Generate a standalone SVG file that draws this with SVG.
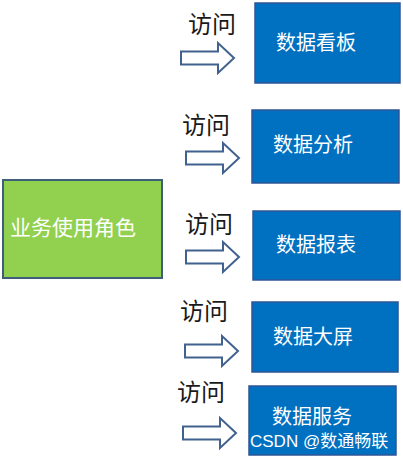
<svg xmlns="http://www.w3.org/2000/svg" width="403" height="458" viewBox="0 0 403 458">
<style>
.blue{fill:#0070C0;stroke:#2F5597;stroke-width:1.5}
.green{fill:#92D050;stroke:#3E5F7A;stroke-width:2}
.wt{fill:#fff;font-family:"Noto Sans CJK SC","Liberation Sans",sans-serif;font-size:20px}
.lbl{fill:#1a1a1a;font-family:"Noto Sans CJK SC","Liberation Sans",sans-serif;font-size:24px}
.arr{fill:#fff;stroke:#41628E;stroke-width:2;stroke-linejoin:miter}
</style>
<defs>
<path id="ar" d="M0,-6.5 H37 V-15 L53,0 L37,15 V6.5 H0 Z"/>
</defs>
<rect width="403" height="458" fill="#fff"/>
<g id="role">
<rect class="green" x="3" y="180" width="159" height="98"/>
<text class="wt" x="10" y="235" style="font-size:21px">业务使用角色</text>
</g>
<g id="n1">
<rect class="blue" x="255" y="3" width="145" height="80"/>
<text class="wt" x="276" y="50">数据看板</text>
</g>
<g id="n2">
<rect class="blue" x="252" y="110" width="147" height="73"/>
<text class="wt" x="273" y="152">数据分析</text>
</g>
<g id="n3">
<rect class="blue" x="253" y="211" width="147" height="69"/>
<text class="wt" x="276" y="252">数据报表</text>
</g>
<g id="n4">
<rect class="blue" x="252" y="302" width="146" height="70"/>
<text class="wt" x="273" y="344">数据大屏</text>
</g>
<g id="n5">
<rect class="blue" x="249" y="386" width="147" height="69"/>
<text class="wt" x="272" y="424">数据服务</text>
</g>
<g id="connectors">
<use href="#ar" class="arr" x="181" y="58"/>
<use href="#ar" class="arr" x="186" y="158"/>
<use href="#ar" class="arr" x="186" y="257"/>
<use href="#ar" class="arr" x="185" y="351"/>
<use href="#ar" class="arr" x="183" y="433"/>
<text class="lbl" x="188" y="33">访问</text>
<text class="lbl" x="182" y="134">访问</text>
<text class="lbl" x="185" y="233">访问</text>
<text class="lbl" x="180" y="320">访问</text>
<text class="lbl" x="177" y="401">访问</text>
</g>
<text x="250" y="447" fill="#fff" font-family="'Liberation Sans','Noto Sans CJK SC',sans-serif" font-size="17">CSDN @数通畅联</text>
</svg>
